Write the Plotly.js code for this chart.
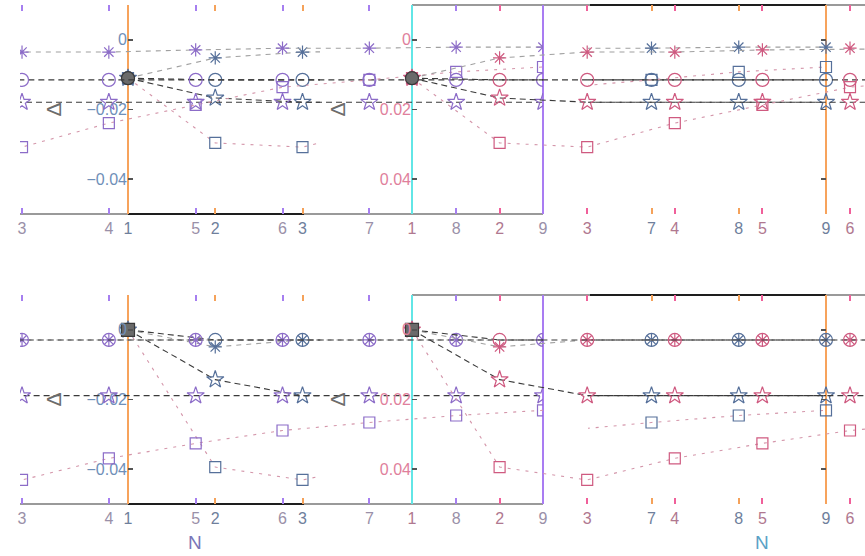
<!DOCTYPE html>
<html>
<head>
<meta charset="utf-8">
<script src="https://cdn.plot.ly/plotly-3.0.1.min.js"></script>
<style>
  html, body { margin: 0; padding: 0; background: #ffffff; }
  #chart { width: 865px; height: 556px; }
</style>
</head>
<body>
<div id="chart"></div>
<script>
// Sample counts on the horizontal axis
const nValues = [1, 2, 3, 4, 5, 6, 7, 8, 9];

// Upper panel series
const topAsterisk = [-0.0110, -0.0052, -0.0035, -0.0035, -0.0029, -0.0024, -0.0024, -0.0021, -0.0021];
const topCircle   = [-0.0110, -0.0115, -0.0115, -0.0115, -0.0115, -0.0115, -0.0115, -0.0115, -0.0115];
const topStar     = [-0.0110, -0.0167, -0.0179, -0.0179, -0.0179, -0.0179, -0.0179, -0.0179, -0.0179];
const topSquare   = [-0.0110, -0.0296, -0.0308, -0.0239, -0.0187, -0.0136, -0.0115, -0.0092, -0.0078];

// Lower panel series
const botAsterisk = [0, -0.0049, -0.0029, -0.0029, -0.0029, -0.0029, -0.0029, -0.0029, -0.0029];
const botCircle   = [0, -0.0029, -0.0029, -0.0029, -0.0029, -0.0029, -0.0029, -0.0029, -0.0029];
const botStar     = [0, -0.0143, -0.0189, -0.0189, -0.0189, -0.0189, -0.0189, -0.0189, -0.0189];
const botSquare   = [0, -0.0394, -0.0431, -0.0369, -0.0326, -0.0289, -0.0266, -0.0246, -0.0231];

// Tick values of the overlaid frames
const ticksA1 = [1, 2, 3];
const ticksA2 = [7, 8, 9];
const ticksB = [3, 4, 5, 6, 7, 8, 9];
const ticksC = [1, 2, 3, 4, 5, 6];
const yTicksNeg = [-0.04, -0.02, 0];
const yTickTextNeg = ['\u22120.04', '\u22120.02', '0'];
const yTicksPos = [0, 0.02, 0.04];
const yTickTextPos = ['0', '0.02', '0.04'];

const W = 865, H = 556;
const fx = px => px / W;
const fy = py => 1 - py / H;
const FONT = 'Liberation Sans, Arial, sans-serif';
const TICK_SIZE = 16;

// Row boxes (pixel tops/bottoms)
const rows = [
  { top: 5,   bottom: 214, series: [topAsterisk, topCircle, topStar, topSquare], startSymbol: 'circle' },
  { top: 295, bottom: 504, series: [botAsterisk, botCircle, botStar, botSquare], startSymbol: 'square' }
];

// Offset copies of each frame: x-domain in pixels, axis range, styling
const pxA = 87.25;
const frames = [
  { name: 'A1', d0: 128, d1: 320, range: [1, 1 + 192 / pxA], ticks: ticksA1, tickColor: '#f5a25a',
    labelColor: '#6f7f9c', marker: '#56709a', sign: 1, clip: false, yMode: 'left' },
  { name: 'A2', d0: 588, d1: 826, range: [1 + 460 / pxA, 9], ticks: ticksA2, tickColor: '#f5a25a',
    labelColor: '#6f7f9c', marker: '#56709a', sign: 1, clip: false, yMode: 'right' },
  { name: 'B', d0: 20, d1: 543, range: [9 - 523 / 86.83, 9], ticks: ticksB, tickColor: '#a67ff0',
    labelColor: '#9a90a8', marker: '#8c6cc8', sign: 1, clip: true, yMode: 'none' },
  { name: 'C', d0: 412, d1: 865, range: [1, 1 + 453 / 87.6], ticks: ticksC, tickColor: '#f0609a',
    labelColor: '#b07890', marker: '#cf5a80', sign: -1, clip: false, yMode: 'pos' }
];

const seriesStyle = [
  { symbol: 'asterisk-open', size: 11, line: '#a0a0a0', dash: '5px,5px' },
  { symbol: 'circle-open',   size: 13, line: '#3a3a3a', dash: '6px,4px' },
  { symbol: 'star-open',     size: 13, line: '#3a3a3a', dash: '6px,4px' },
  { symbol: 'square-open',   size: 11, line: '#d496aa', dash: '3px,6px' }
];

const traces = [];
const layout = {
  width: W, height: H,
  margin: { l: 0, r: 0, t: 0, b: 0 },
  paper_bgcolor: '#ffffff',
  plot_bgcolor: 'rgba(0,0,0,0)',
  showlegend: false,
  font: { family: FONT, size: TICK_SIZE, color: '#777' },
  shapes: [],
  annotations: []
};

let k = 0;
rows.forEach(row => {
  frames.forEach(fr => {
    k += 1;
    const xName = 'x' + (k > 1 ? k : '');
    const yName = 'y' + (k > 1 ? k : '');
    const xKey = 'xaxis' + (k > 1 ? k : '');
    const yKey = 'yaxis' + (k > 1 ? k : '');

    layout[xKey] = {
      domain: [fx(fr.d0), fx(fr.d1)],
      range: fr.range,
      anchor: yName,
      tickmode: 'array',
      tickvals: fr.ticks,
      ticktext: fr.ticks.map(String),
      ticks: 'inside',
      ticklen: 6,
      tickwidth: 2,
      tickcolor: fr.tickColor,
      ticklabelstandoff: 3,
      mirror: 'ticks',
      showline: false,
      showgrid: false,
      zeroline: false,
      tickfont: { size: TICK_SIZE, color: fr.labelColor, family: FONT }
    };

    const yAxis = {
      domain: [fy(row.bottom), fy(row.top)],
      anchor: xName,
      showgrid: false,
      zeroline: false,
      showline: false,
      tickmode: 'array',
      ticks: 'inside',
      ticklen: 5,
      tickwidth: 1.5,
      tickcolor: '#555',
      mirror: false,
      range: [-0.05, 0.01],
      tickvals: yTicksNeg,
      ticktext: yTickTextNeg,
      tickfont: { size: TICK_SIZE, color: '#6f8fb8', family: FONT }
    };
    if (fr.yMode === 'right') {
      Object.assign(yAxis, { side: 'right', showticklabels: false });
    } else if (fr.yMode === 'pos') {
      Object.assign(yAxis, {
        range: [0.05, -0.01], tickvals: yTicksPos, ticktext: yTickTextPos,
        tickfont: { size: TICK_SIZE, color: '#e07f9c', family: FONT }
      });
    } else if (fr.yMode === 'none') {
      yAxis.visible = false;
    }
    layout[yKey] = yAxis;

    row.series.forEach((vals, s) => {
      const st = seriesStyle[s];
      traces.push({
        x: nValues,
        y: vals.map(v => fr.sign * v),
        xaxis: xName, yaxis: yName,
        type: 'scatter',
        mode: 'lines+markers',
        cliponaxis: fr.clip,
        line: { color: st.line, width: 1.1, dash: st.dash },
        marker: { symbol: st.symbol, size: st.size, color: fr.marker,
                  line: { color: fr.marker, width: 1.2 } },
        hoverinfo: 'skip'
      });
    });

    // Shared starting point at N = 1
    traces.push({
      x: [nValues[0]],
      y: [fr.sign * row.series[1][0]],
      xaxis: xName, yaxis: yName,
      type: 'scatter', mode: 'markers',
      cliponaxis: fr.clip,
      marker: { symbol: row.startSymbol, size: 13, color: '#6a6a6a',
                line: { color: '#3a3a3a', width: 1.2 } },
      hoverinfo: 'skip'
    });
  });

  // Frame edges of the overlaid copies
  const T = fy(row.top), B = fy(row.bottom);
  const line = (x0, y0, x1, y1, color, width) => layout.shapes.push({
    type: 'line', xref: 'paper', yref: 'paper', x0, y0, x1, y1,
    line: { color, width }, layer: 'below'
  });
  line(fx(20), B, fx(543), B, '#9a9a9a', 2);
  line(fx(128), B, fx(304), B, '#1e1e1e', 2);
  line(fx(412), T, fx(865), T, '#9a9a9a', 2);
  line(fx(590), T, fx(826), T, '#1e1e1e', 2);
  line(fx(128), T, fx(128), B, '#f7a35c', 2);
  line(fx(826), T, fx(826), B, '#f7a35c', 2);
  line(fx(412), T, fx(412), B, '#62e6e6', 2);
  line(fx(543), T, fx(543), B, '#a97cf2', 2);

  // Rotated y label of the frames
  [53, 337].forEach(px => layout.annotations.push({
    text: '\u0394', xref: 'paper', yref: 'paper',
    x: fx(px), y: fy((row.top + row.bottom) / 2),
    xanchor: 'center', yanchor: 'middle',
    showarrow: false, textangle: -90,
    font: { size: 21, color: '#6c6c6c', family: FONT }
  }));
});

// x label of the lower frames
[[195, '#7a76b8'], [762, '#5aa2c6']].forEach(([px, col]) => layout.annotations.push({
  text: 'N', xref: 'paper', yref: 'paper',
  x: fx(px), y: fy(542), xanchor: 'center', yanchor: 'middle',
  showarrow: false, borderpad: 0,
  font: { size: 19, color: col, family: FONT }
}));

Plotly.newPlot('chart', traces, layout, { staticPlot: true, displayModeBar: false });
</script>
</body>
</html>
